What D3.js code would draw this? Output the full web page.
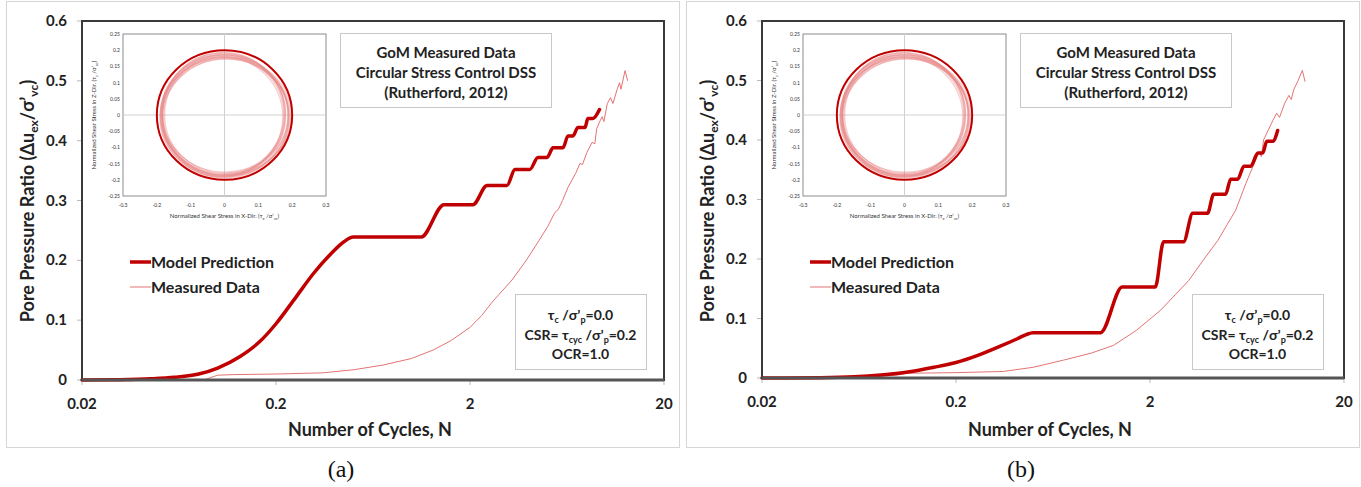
<!DOCTYPE html>
<html>
<head>
<meta charset="utf-8">
<script src="https://cdn.jsdelivr.net/npm/d3@7"></script>
<style>
  body { margin: 0; background: #fff; }
  text { font-family: Lato, "Open Sans", sans-serif; }
</style>
</head>
<body>
<script>
// axis ticks
const cycleTicks = [0.02, 0.2, 2, 20];
const ppTicks = [0, 0.1, 0.2, 0.3, 0.4, 0.5, 0.6];
const insetXTicks = [-0.3, -0.2, -0.1, 0, 0.1, 0.2, 0.3];
const insetYTicks = [-0.25, -0.2, -0.15, -0.1, -0.05, 0, 0.05, 0.1, 0.15, 0.2, 0.25];

// panel (a) : model prediction (N, pore pressure ratio)
const modelCyclesA = [0.02, 0.03, 0.045, 0.06, 0.08, 0.1, 0.13, 0.166, 0.2, 0.254, 0.312, 0.384, 0.448, 0.5,
	1.12, 1.47, 2.07, 2.45, 3.1, 3.41, 4.07, 4.48, 4.99, 5.36, 6.03, 6.4, 6.79, 7.2, 7.83, 8.1, 8.6, 9.3];
const modelPPA = [0, 0.0005, 0.002, 0.0045, 0.01, 0.02, 0.039, 0.065, 0.094, 0.139, 0.178, 0.211, 0.231, 0.239,
	0.239, 0.293, 0.293, 0.325, 0.325, 0.352, 0.352, 0.372, 0.372, 0.388, 0.388, 0.408, 0.408, 0.422, 0.422, 0.437, 0.437, 0.452];

// panel (a) : measured data
const measCyclesA = [0.085, 0.092, 0.1, 0.12, 0.2, 0.35, 0.5, 0.713, 1.0, 1.29, 1.6, 2.0, 2.3, 2.6, 3.29, 3.9, 4.43,
	5.0, 5.48, 5.7, 6.0, 6.4, 7.0, 7.38, 7.6, 8.0, 8.51, 8.8, 9.0, 9.36, 9.6, 9.8, 10.2, 10.6, 10.9, 11.5, 11.8, 12.0, 12.6, 13.0];
const measPPA = [0, 0.004, 0.008, 0.009, 0.01, 0.012, 0.017, 0.025, 0.036, 0.05, 0.066, 0.088, 0.108, 0.13, 0.167, 0.2, 0.228,
	0.255, 0.28, 0.285, 0.3, 0.322, 0.345, 0.362, 0.36, 0.38, 0.397, 0.395, 0.42, 0.433, 0.44, 0.432, 0.462, 0.472, 0.462, 0.487, 0.497, 0.486, 0.517, 0.5];

// panel (b) : model prediction
const modelCyclesB = [0.02, 0.04, 0.06, 0.082, 0.113, 0.154, 0.2, 0.259, 0.336, 0.414, 0.46, 0.5,
	1.11, 1.44, 2.13, 2.35, 2.98, 3.32, 3.96, 4.26, 4.91, 5.21, 5.66, 6.1, 6.61, 7.2, 7.62, 8.0, 8.6, 9.1];
const modelPPB = [0, 0.0005, 0.002, 0.005, 0.01, 0.018, 0.026, 0.038, 0.053, 0.066, 0.073, 0.076,
	0.076, 0.153, 0.153, 0.229, 0.229, 0.277, 0.277, 0.309, 0.309, 0.334, 0.334, 0.356, 0.356, 0.378, 0.378, 0.398, 0.398, 0.416];

// panel (b) : measured data
const measCyclesB = [0.06, 0.1, 0.112, 0.2, 0.35, 0.5, 0.716, 1.0, 1.3, 1.7, 2.27, 2.7, 3.17, 3.8, 4.47, 5.0, 5.53,
	6.24, 7.0, 7.3, 7.5, 7.7, 8.6, 9.0, 9.3, 9.9, 10.4, 10.7, 11.0, 11.6, 12.2, 12.6];
const measPPB = [0, 0.005, 0.008, 0.009, 0.011, 0.018, 0.03, 0.042, 0.055, 0.08, 0.114, 0.14, 0.164, 0.2, 0.231, 0.258, 0.282,
	0.327, 0.366, 0.38, 0.372, 0.4, 0.433, 0.445, 0.438, 0.462, 0.475, 0.468, 0.484, 0.5, 0.517, 0.498];

// inset stress path loops (centre x, centre z, radius x, radius z)
const modelLoop = [0, 0, 0.2, 0.2];
const loopCx = [0.0, -0.004, 0.003, -0.002, 0.005, -0.006, 0.002, 0.0, -0.003, 0.004, 0.001, -0.001, 0.006, -0.005];
const loopCz = [-0.004, 0.0, -0.006, 0.003, -0.002, -0.005, 0.002, -0.008, 0.004, -0.003, -0.001, 0.001, -0.007, 0.0];
const loopRx = [0.19, 0.185, 0.188, 0.182, 0.193, 0.178, 0.186, 0.191, 0.18, 0.184, 0.187, 0.176, 0.189, 0.183];
const loopRz = [0.19, 0.186, 0.183, 0.188, 0.181, 0.185, 0.178, 0.184, 0.189, 0.176, 0.187, 0.182, 0.18, 0.191];

const W = 1361, H = 487;
const darkRed = "#c00000";
const lightRed = "#e57373";

const svg = d3.select("body").append("svg")
	.attr("width", W)
	.attr("height", H);

const panels = [
	{ dx: 0, bottom: 380, caption: "(a)", model: d3.zip(modelCyclesA, modelPPA), meas: d3.zip(measCyclesA, measPPA) },
	{ dx: 680, bottom: 378, caption: "(b)", model: d3.zip(modelCyclesB, modelPPB), meas: d3.zip(measCyclesB, measPPB) }
];

panels.forEach(drawPanel);

function drawPanel(p) {
	const g = svg.append("g").attr("transform", "translate(" + p.dx + ",0)");

	// light frame around each figure
	g.append("rect")
		.attr("x", 6.5).attr("y", 1.5)
		.attr("width", 673).attr("height", 446)
		.attr("fill", "none").attr("stroke", "#d6d6d6");

	const x = d3.scaleLog().domain([0.02, 20]).range([82, 664]);
	const y = d3.scaleLinear().domain([0, 0.6]).range([p.bottom, 21]);

	// y ticks + labels
	g.selectAll(".ytick").data(ppTicks).enter().append("line")
		.attr("x1", 77).attr("x2", 82)
		.attr("y1", d => y(d)).attr("y2", d => y(d))
		.attr("stroke", "#bbb");
	g.selectAll(".ylab").data(ppTicks).enter().append("text")
		.attr("x", 67).attr("y", d => y(d) + 5)
		.attr("text-anchor", "end")
		.attr("font-size", 15).attr("font-weight", "bold").attr("fill", "#222")
		.text(d => d === 0 ? "0" : d3.format(".1f")(d));

	// x ticks + labels
	g.selectAll(".xtick").data(cycleTicks).enter().append("line")
		.attr("x1", d => x(d)).attr("x2", d => x(d))
		.attr("y1", p.bottom).attr("y2", p.bottom + 5)
		.attr("stroke", "#bbb");
	g.selectAll(".xlab").data(cycleTicks).enter().append("text")
		.attr("x", d => x(d)).attr("y", p.bottom + 29)
		.attr("text-anchor", "middle")
		.attr("font-size", 15).attr("font-weight", "bold").attr("fill", "#222")
		.text(d => String(d));

	// axis titles
	g.append("text")
		.attr("x", 370).attr("y", 436)
		.attr("text-anchor", "middle")
		.attr("font-size", 18).attr("font-weight", "bold").attr("fill", "#222")
		.text("Number of Cycles, N");

	const yl = g.append("text")
		.attr("transform", "translate(34,201) rotate(-90)")
		.attr("text-anchor", "middle")
		.attr("font-size", 18).attr("font-weight", "bold").attr("fill", "#222");
	yl.append("tspan").text("Pore Pressure Ratio (\u0394u");
	yl.append("tspan").attr("font-size", 12).attr("dy", 4).text("ex");
	yl.append("tspan").attr("dy", -4).text("/\u03c3\u2019");
	yl.append("tspan").attr("font-size", 12).attr("dy", 4).text("vc");
	yl.append("tspan").attr("dy", -4).text(")");

	// inset: circular stress path
	drawInset(g);

	// source box
	g.append("rect")
		.attr("x", 340.5).attr("y", 33.5).attr("width", 211).attr("height", 74)
		.attr("fill", "#fff").attr("stroke", "#c8c8c8");
	["GoM Measured Data", "Circular Stress Control DSS", "(Rutherford, 2012)"].forEach((t, i) => {
		g.append("text")
			.attr("x", 446).attr("y", 58 + i * 20)
			.attr("text-anchor", "middle")
			.attr("font-size", 15).attr("font-weight", "bold").attr("fill", "#222")
			.text(t);
	});

	// test conditions box
	const bx = p.dx === 0 ? 515.5 : 512.5;
	g.append("rect")
		.attr("x", bx).attr("y", 294.5).attr("width", 131).attr("height", 75)
		.attr("fill", "#fff").attr("stroke", "#c8c8c8");
	const cx = bx + 65;
	let t1 = g.append("text").attr("x", cx).attr("y", 320).attr("text-anchor", "middle")
		.attr("font-size", 14).attr("font-weight", "bold").attr("fill", "#222");
	t1.append("tspan").text("\u03c4");
	t1.append("tspan").attr("font-size", 9).attr("dy", 3).text("c");
	t1.append("tspan").attr("dy", -3).text(" /\u03c3\u2019");
	t1.append("tspan").attr("font-size", 9).attr("dy", 3).text("p");
	t1.append("tspan").attr("dy", -3).text("=0.0");
	let t2 = g.append("text").attr("x", cx).attr("y", 340).attr("text-anchor", "middle")
		.attr("font-size", 14).attr("font-weight", "bold").attr("fill", "#222");
	t2.append("tspan").text("CSR= \u03c4");
	t2.append("tspan").attr("font-size", 9).attr("dy", 3).text("cyc");
	t2.append("tspan").attr("dy", -3).text(" /\u03c3\u2019");
	t2.append("tspan").attr("font-size", 9).attr("dy", 3).text("p");
	t2.append("tspan").attr("dy", -3).text("=0.2");
	g.append("text").attr("x", cx).attr("y", 359).attr("text-anchor", "middle")
		.attr("font-size", 14).attr("font-weight", "bold").attr("fill", "#222")
		.text("OCR=1.0");

	// legend
	g.append("line").attr("x1", 130).attr("x2", 151).attr("y1", 262).attr("y2", 262)
		.attr("stroke", darkRed).attr("stroke-width", 3.5);
	g.append("text").attr("x", 151).attr("y", 268)
		.attr("font-size", 16).attr("font-weight", "bold").attr("fill", "#222")
		.text("Model Prediction");
	g.append("line").attr("x1", 130).attr("x2", 151).attr("y1", 287).attr("y2", 287)
		.attr("stroke", lightRed).attr("stroke-width", 1);
	g.append("text").attr("x", 151).attr("y", 293)
		.attr("font-size", 16).attr("font-weight", "bold").attr("fill", "#222")
		.text("Measured Data");

	// curves
	const line = d3.line()
		.x(d => x(d[0]))
		.y(d => y(d[1]))
		.curve(d3.curveMonotoneX);

	g.append("path").datum(p.meas)
		.attr("d", d3.line().x(d => x(d[0])).y(d => y(d[1])))
		.attr("fill", "none").attr("stroke", lightRed).attr("stroke-width", 1);

	g.append("path").datum(p.model)
		.attr("d", line)
		.attr("fill", "none").attr("stroke", darkRed)
		.attr("stroke-width", 3.5).attr("stroke-linejoin", "round").attr("stroke-linecap", "round");

	// plot border
	g.append("rect")
		.attr("x", 82).attr("y", 21)
		.attr("width", 582).attr("height", p.bottom - 21)
		.attr("fill", "none").attr("stroke", "#3a3a3a").attr("stroke-width", 2);
	g.append("line")
		.attr("x1", 82).attr("x2", 664).attr("y1", p.bottom).attr("y2", p.bottom)
		.attr("stroke", "#555").attr("stroke-width", 3);

	// caption
	g.append("text")
		.attr("x", 341).attr("y", 477)
		.attr("text-anchor", "middle")
		.style("font-family", "'Liberation Serif', serif")
		.attr("font-size", 24).attr("fill", "#111")
		.text(p.caption);
}

function drawInset(g) {
	const ix = d3.scaleLinear().domain([-0.3, 0.3]).range([123, 326]);
	const iy = d3.scaleLinear().domain([-0.25, 0.25]).range([196, 34]);

	g.append("rect")
		.attr("x", 123).attr("y", 34).attr("width", 203).attr("height", 162)
		.attr("fill", "#fff").attr("stroke", "#8c8c8c");

	// zero lines
	g.append("line").attr("x1", ix(-0.3)).attr("x2", ix(0.3)).attr("y1", iy(0)).attr("y2", iy(0))
		.attr("stroke", "#d0d0d0");
	g.append("line").attr("x1", ix(0)).attr("x2", ix(0)).attr("y1", iy(-0.25)).attr("y2", iy(0.25))
		.attr("stroke", "#d0d0d0");

	g.selectAll(".ixl").data(insetXTicks).enter().append("text")
		.attr("x", d => ix(d)).attr("y", 207)
		.attr("text-anchor", "middle").attr("font-size", 5).attr("fill", "#333")
		.text(d => d === 0 ? "0" : String(d));
	g.selectAll(".iyl").data(insetYTicks).enter().append("text")
		.attr("x", 120).attr("y", d => iy(d) + 2)
		.attr("text-anchor", "end").attr("font-size", 5).attr("fill", "#333")
		.text(d => d === 0 ? "0" : String(d));

	const xl = g.append("text").attr("x", ix(0)).attr("y", 218)
		.attr("text-anchor", "middle").attr("font-size", 6).attr("fill", "#333");
	xl.append("tspan").text("Normalized Shear Stress in X-Dir. (\u03c4");
	xl.append("tspan").attr("font-size", 4).attr("dy", 1.5).text("x");
	xl.append("tspan").attr("dy", -1.5).text(" /\u03c3\u2019");
	xl.append("tspan").attr("font-size", 4).attr("dy", 1.5).text("vc");
	xl.append("tspan").attr("dy", -1.5).text(")");

	const yl = g.append("text").attr("transform", "translate(96," + iy(0) + ") rotate(-90)")
		.attr("text-anchor", "middle").attr("font-size", 6).attr("fill", "#333");
	yl.append("tspan").text("Normalized Shear Stress in Z-Dir. (\u03c4");
	yl.append("tspan").attr("font-size", 4).attr("dy", 1.5).text("z");
	yl.append("tspan").attr("dy", -1.5).text(" /\u03c3\u2019");
	yl.append("tspan").attr("font-size", 4).attr("dy", 1.5).text("vc");
	yl.append("tspan").attr("dy", -1.5).text(")");

	// measured loops
	g.selectAll(".loop").data(d3.range(loopCx.length)).enter().append("ellipse")
		.attr("cx", i => ix(loopCx[i]))
		.attr("cy", i => iy(loopCz[i]))
		.attr("rx", i => ix(loopRx[i]) - ix(0))
		.attr("ry", i => iy(0) - iy(loopRz[i]))
		.attr("fill", "none").attr("stroke", "#e88a8a").attr("stroke-opacity", 0.4).attr("stroke-width", 1.3);

	// model loop
	g.append("ellipse")
		.attr("cx", ix(modelLoop[0])).attr("cy", iy(modelLoop[1]))
		.attr("rx", ix(modelLoop[2]) - ix(0))
		.attr("ry", iy(0) - iy(modelLoop[3]))
		.attr("fill", "none").attr("stroke", darkRed).attr("stroke-width", 2);
}
</script>
</body>
</html>
